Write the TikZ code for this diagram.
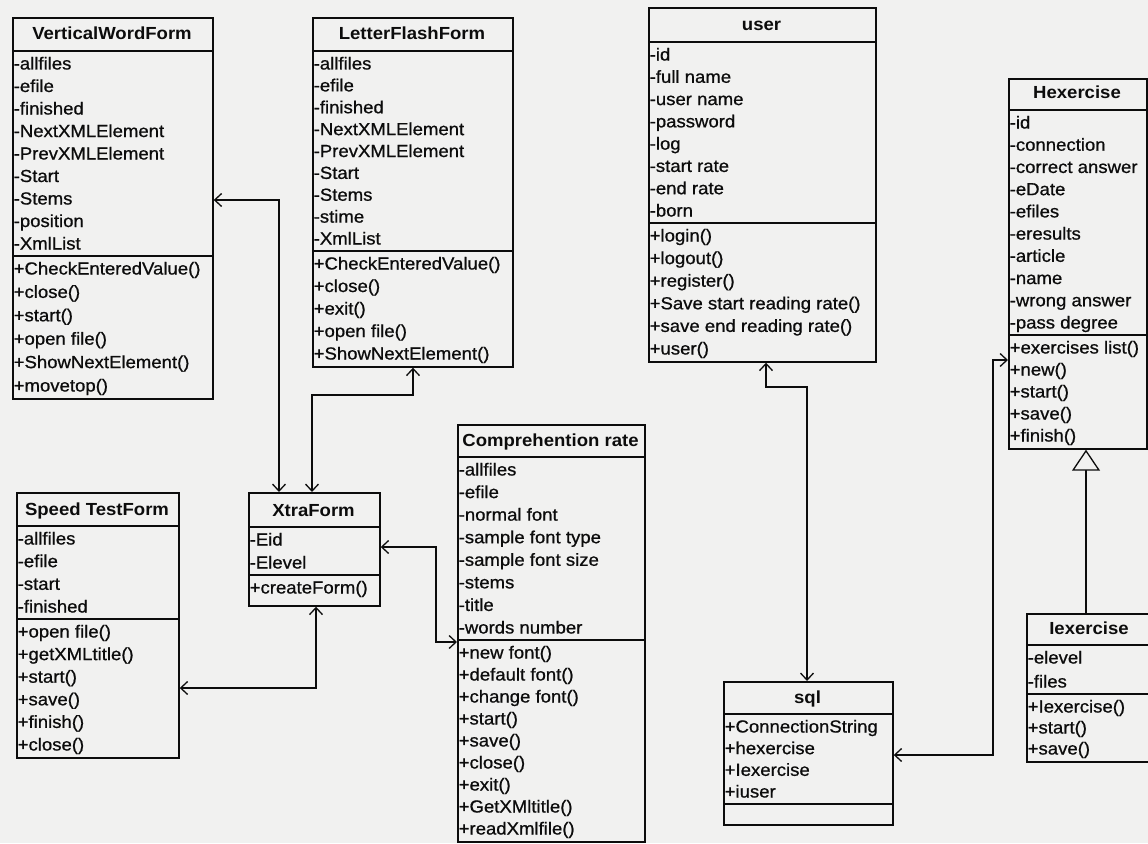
\documentclass[tikz,border=0pt]{standalone}
\usepackage{fontspec}
\setmainfont{Liberation Sans}[FakeStretch=1.06, UprightFeatures={FakeBold=0.8}]
\usetikzlibrary{arrows.meta}
\definecolor{bgc}{RGB}{241,241,240}
\definecolor{ink}{RGB}{12,12,12}
\newcommand\umlfont{\fontsize{17.5}{21}\selectfont}
% #1 prefix, #2 left x, #3 compartment top, #4 compartment bottom, #5 count, #6 list
\newcommand\umllines[6]{%
  \pgfmathsetmacro\umlsp{(#4-#3-25)/max(#5-1,1)}%
  \foreach \lbl [count=\i] in {#6} {\node[txt] (#1\i) at (#2+1.5, {#3+18.5+(\i-1)*\umlsp}) {\lbl};}%
}
% #1 name, #2 left, #3 top, #4 right, #5 bottom, #6 title sep, #7 attr sep, #8 title
\newcommand\umlclass[8]{%
  \node[cls, minimum width={#4-#2}, minimum height={#5-#3}] (#1) at (#2,#3) {};
  \draw[sepl] (#2,#6) -- (#4,#6);
  \draw[sepl] (#2,#7) -- (#4,#7);
  \node[ttl] (#1-title) at ({(#2+#4)/2}, #6-11) {#8};
}
\begin{document}
\begin{tikzpicture}[x=1pt,y=-1pt,
  cls/.style={draw=ink, line width=1.7pt, inner sep=0pt, anchor=north west},
  txt/.style={anchor=base west, inner sep=0pt, font=\umlfont, text=ink},
  ttl/.style={anchor=base, inner sep=0pt, font=\umlfont\bfseries, text=ink},
  sepl/.style={draw=ink, line width=1.5pt},
  >={Straight Barb[length=7pt,width=13pt]},
  assoc/.style={draw=ink, line width=1.3pt, <->},
  gen/.style={draw=ink, line width=1.3pt, -{Triangle[open, length=21pt, width=28pt, fill=bgc]}}]
\fill[bgc] (0,0) rectangle (1148,843);
\useasboundingbox (0,0) rectangle (1148,843);

% VerticalWordForm
\umlclass{vwf}{12}{17}{212}{398}{51}{256}{VerticalWordForm}
\umllines{vwf-a}{12}{51}{256}{9}{-allfiles,-efile,-finished,-NextXMLElement,-PrevXMLElement,-Start,-Stems,-position,-XmlList}
\umllines{vwf-m}{12}{256}{398}{6}{+CheckEnteredValue(),+close(),+start(),+open file(),+ShowNextElement(),+movetop()}

% LetterFlashForm
\umlclass{lff}{312}{17}{512}{366}{51}{251}{LetterFlashForm}
\umllines{lff-a}{312}{51}{251}{9}{-allfiles,-efile,-finished,-NextXMLElement,-PrevXMLElement,-Start,-Stems,-stime,-XmlList}
\umllines{lff-m}{312}{251}{366}{5}{+CheckEnteredValue(),+close(),+exit(),+open file(),+ShowNextElement()}

% user
\umlclass{user}{648}{7}{875}{361}{42}{223}{user}
\umllines{user-a}{648}{42}{223}{8}{-id,-full name,-user name,-password,-log,-start rate,-end rate,-born}
\umllines{user-m}{648}{223}{361}{6}{+login(),+logout(),+register(),+Save start reading rate(),+save end reading rate(),+user()}

% Hexercise
\umlclass{hex}{1008}{78}{1146}{448}{110}{335}{Hexercise}
\umllines{hex-a}{1008}{110}{335}{10}{-id,-connection,-correct answer,-eDate,-efiles,-eresults,-article,-name,-wrong answer,-pass degree}
\umllines{hex-m}{1008}{335}{448}{5}{+exercises list(),+new(),+start(),+save(),+finish()}

% Speed TestForm
\umlclass{speed}{16}{492}{178}{757}{526}{619}{Speed TestForm}
\umllines{speed-a}{16}{526}{619}{4}{-allfiles,-efile,-start,-finished}
\umllines{speed-m}{16}{619}{757}{6}{+open file(),+getXMLtitle(),+start(),+save(),+finish(),+close()}

% XtraForm
\umlclass{xtra}{248}{492}{379}{605}{527}{575}{XtraForm}
\umllines{xtra-a}{248}{527}{575}{2}{-Eid,-Elevel}
\umllines{xtra-m}{248}{575}{605}{1}{+createForm()}

% Comprehention rate
\umlclass{comp}{457}{424}{644}{841}{457}{640}{Comprehention rate}
\umllines{comp-a}{457}{457}{640}{8}{-allfiles,-efile,-normal font,-sample font type,-sample font size,-stems,-title,-words number}
\umllines{comp-m}{457}{640}{841}{9}{+new font(),+default font(),+change font(),+start(),+save(),+close(),+exit(),+GetXMltitle(),+readXmlfile()}

% sql
\umlclass{sql}{723}{681}{892}{824}{714}{804}{sql}
\umllines{sql-a}{723}{714}{804}{4}{+ConnectionString,+hexercise,+Iexercise,+iuser}

% Iexercise
\umlclass{iex}{1026}{613}{1152}{761}{645}{694}{Iexercise}
\umllines{iex-a}{1026}{645}{694}{2}{-elevel,-files}
\umllines{iex-m}{1026}{694}{761}{3}{+Iexercise(),+start(),+save()}

% connectors
\coordinate (c1) at (279,200);
\draw[assoc] (vwf.east |- c1) -- (c1) -- (c1 |- xtra.north);
\coordinate (c2) at (413,395);
\coordinate (c3) at (312,395);
\draw[assoc] (c2 |- lff.south) -- (c2) -- (c3) -- (c3 |- xtra.north);
\coordinate (c4) at (436,547);
\coordinate (c5) at (436,642);
\draw[assoc] (xtra.east |- c4) -- (c4) -- (c5) -- (comp.west |- c5);
\coordinate (c6) at (316,688);
\draw[assoc] (c6 |- xtra.south) -- (c6) -- (speed.east |- c6);
\coordinate (c7) at (766,387);
\coordinate (c8) at (807,387);
\draw[assoc] (c7 |- user.south) -- (c7) -- (c8) -- (c8 |- sql.north);
\coordinate (c9) at (993,360);
\coordinate (c10) at (993,755);
\draw[assoc] (hex.west |- c9) -- (c9) -- (c10) -- (sql.east |- c10);
\coordinate (g) at (1086,500);
\draw[gen] (g |- iex.north) -- (g |- hex.south);
\end{tikzpicture}
\end{document}
